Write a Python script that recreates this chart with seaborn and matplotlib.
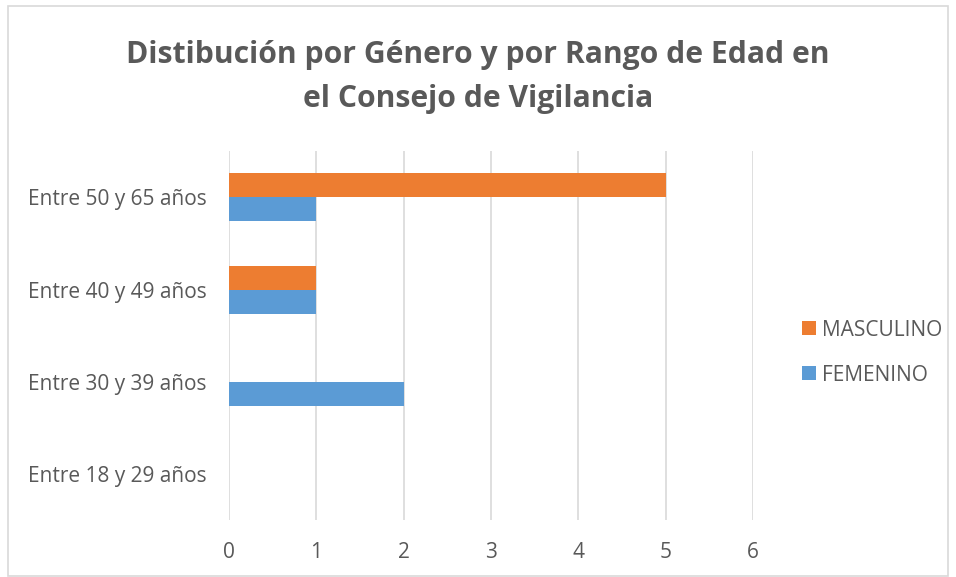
import matplotlib
matplotlib.use("Agg")
import matplotlib.pyplot as plt
import seaborn as sns
import pandas as pd
from matplotlib.patches import Rectangle, Patch

categories = ["Entre 50 y 65 años", "Entre 40 y 49 años", "Entre 30 y 39 años", "Entre 18 y 29 años"]
masculino = [5, 1, 0, 0]
femenino = [1, 1, 2, 0]
series_names = ["MASCULINO", "FEMENINO"]
colors = ["#ED7D31", "#5B9BD5"]
xticks = [0, 1, 2, 3, 4, 5, 6]
title = "Distibución por Género y por Rango de Edad en\nel Consejo de Vigilancia"

df = pd.DataFrame({
    "Rango": categories * 2,
    "Valor": masculino + femenino,
    "Genero": [series_names[0]] * len(categories) + [series_names[1]] * len(categories),
})

sns.set_theme(style="white")
plt.rcParams["font.family"] = ["Open Sans", "DejaVu Sans"]

fig = plt.figure(figsize=(9.56, 5.77), dpi=100)
ax = fig.add_axes([0.2395, 0.0988, 0.7877 - 0.2395, 0.639])

sns.barplot(data=df, y="Rango", x="Valor", hue="Genero", order=categories,
            hue_order=series_names, palette=colors, orient="h", width=0.52,
            ax=ax, legend=False, linewidth=0, saturation=1)

ax.set_xlim(0, 6)
ax.set_ylim(3.5, -0.5)
ax.set_xticks(xticks)
ax.set_xticklabels([str(t) for t in xticks])
ax.grid(axis="x", color="#D9D9D9", linewidth=1.2)
ax.set_axisbelow(True)
for s in ax.spines.values():
    s.set_visible(False)
ax.set_xlabel("")
ax.set_ylabel("")
ax.tick_params(axis="both", length=0, colors="#595959", labelsize=15)
ax.tick_params(axis="x", pad=16)
ax.tick_params(axis="y", pad=16)

fig.text(0.5, 0.866, title, ha="center", va="center", fontsize=21.7,
         fontweight="bold", color="#595959", linespacing=1.6)

handles = [Patch(facecolor=c, edgecolor="none") for c in colors]
leg = fig.legend(handles, series_names, loc="center left", bbox_to_anchor=(0.839, 0.389),
                 frameon=False, fontsize=15, handlelength=0.65, handleheight=0.65,
                 handletextpad=0.3, labelspacing=1.15, borderaxespad=0, borderpad=0)
for t in leg.get_texts():
    t.set_color("#595959")

fig.patches.append(Rectangle((8 / 956, 1 - 576 / 577), 1 - 16 / 956, 570 / 577,
                             transform=fig.transFigure, fill=False,
                             edgecolor="#D9D9D9", linewidth=1.2))

fig.savefig("out.png", dpi=100)
